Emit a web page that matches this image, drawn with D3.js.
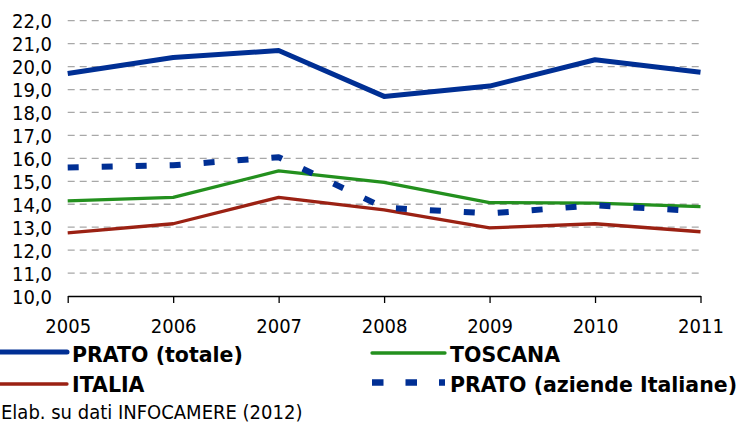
<!DOCTYPE html>
<html><head><meta charset="utf-8">
<script src="https://cdn.jsdelivr.net/npm/d3@7"></script>
<style>body{margin:0;background:#fff}svg{display:block}</style>
</head><body>
<svg id="c" width="740" height="425"></svg>
<script>
const years = [2005, 2006, 2007, 2008, 2009, 2010, 2011];
const pratoTotale = [19.7, 20.4, 20.7, 18.7, 19.15, 20.3, 19.75];
const toscana = [14.15, 14.3, 15.45, 14.95, 14.07, 14.05, 13.9];
const italia = [12.75, 13.15, 14.3, 13.75, 12.97, 13.15, 12.8];
const pratoItaliane = [15.6, 15.7, 16.05, 13.85, 13.6, 13.95, 13.7];
const yTicks = [10, 11, 12, 13, 14, 15, 16, 17, 18, 19, 20, 21, 22];
const seriesNames = ["PRATO (totale)", "TOSCANA", "ITALIA", "PRATO (aziende Italiane)"];
const sourceNote = "Elab. su dati INFOCAMERE (2012)";

const BLUE = "#002f94", GREEN = "#23901e", RED = "#9b2113";
const svg = d3.select("#c");
const x = d3.scalePoint().domain(years).range([67.7, 700.5]);
const y = d3.scaleLinear().domain([10, 22]).range([296, 20.7]);
const tickFont = "'DejaVu Sans Condensed', 'DejaVu Sans', sans-serif";

// gridlines
svg.append("g").selectAll("line").data(yTicks.filter(d => d > 10)).join("line")
  .attr("x1", 67.7).attr("x2", 700.5)
  .attr("y1", d => y(d)).attr("y2", d => y(d))
  .attr("stroke", "#a8a8a8").attr("stroke-width", 1.3).attr("stroke-dasharray", "7,5");

// y labels
svg.append("g").selectAll("text").data(yTicks).join("text")
  .attr("x", 52).attr("y", d => y(d) + 7.5)
  .attr("text-anchor", "end").attr("font-family", tickFont).attr("font-size", 20)
  .attr("fill", "#000").text(d => d3.format(".1f")(d).replace(".", ","));

// x axis
const xAxis = d3.axisBottom(x).tickSize(7).tickSizeOuter(0).tickFormat(d => d);
const gx = svg.append("g").attr("transform", "translate(0,296)").call(xAxis);
gx.select(".domain").attr("stroke", "#000").attr("stroke-width", 1.3);
gx.selectAll(".tick line").attr("stroke", "#000").attr("stroke-width", 1.3);
gx.selectAll(".tick text").attr("font-family", tickFont).attr("font-size", 20)
  .attr("fill", "#000").attr("dy", 0).attr("y", 37.3);

const line = d3.line().x((d, i) => x(years[i])).y(d => y(d));
const series = [
  {v: toscana, c: GREEN, w: 3.3, dash: null},
  {v: italia, c: RED, w: 3.3, dash: null},
  {v: pratoItaliane, c: BLUE, w: 6, dash: "11,23"},
  {v: pratoTotale, c: BLUE, w: 5, dash: null}
];
series.forEach(s => {
  svg.append("path").datum(s.v).attr("d", line).attr("fill", "none")
    .attr("stroke", s.c).attr("stroke-width", s.w)
    .attr("stroke-dasharray", s.dash).attr("stroke-linejoin", "round");
});

// legend
const legFont = "'DejaVu Sans', sans-serif";
const legend = [
  {name: seriesNames[0], c: BLUE, w: 5, dash: null, x0: -5, x1: 67, tx: 72, ly: 352, ty: 362},
  {name: seriesNames[1], c: GREEN, w: 3.3, dash: null, x0: 372, x1: 445, tx: 450, ly: 353, ty: 362},
  {name: seriesNames[2], c: RED, w: 3.3, dash: null, x0: -5, x1: 67, tx: 72, ly: 384, ty: 392},
  {name: seriesNames[3], c: BLUE, w: 6.5, dash: "11.5,22", x0: 372, x1: 445, tx: 450, ly: 382.5, ty: 392}
];
legend.forEach(l => {
  svg.append("line").attr("x1", l.x0).attr("x2", l.x1).attr("y1", l.ly).attr("y2", l.ly)
    .attr("stroke", l.c).attr("stroke-width", l.w).attr("stroke-dasharray", l.dash)
    .attr("stroke-linecap", l.dash ? "butt" : "round");
  svg.append("text").attr("x", l.tx).attr("y", l.ty).attr("font-family", legFont)
    .attr("font-weight", "bold").attr("font-size", 20.5).attr("fill", "#000").text(l.name);
});

svg.append("text").attr("x", 1).attr("y", 419).attr("font-family", tickFont)
  .attr("font-size", 20).attr("fill", "#000").text(sourceNote);
</script>
</body></html>
